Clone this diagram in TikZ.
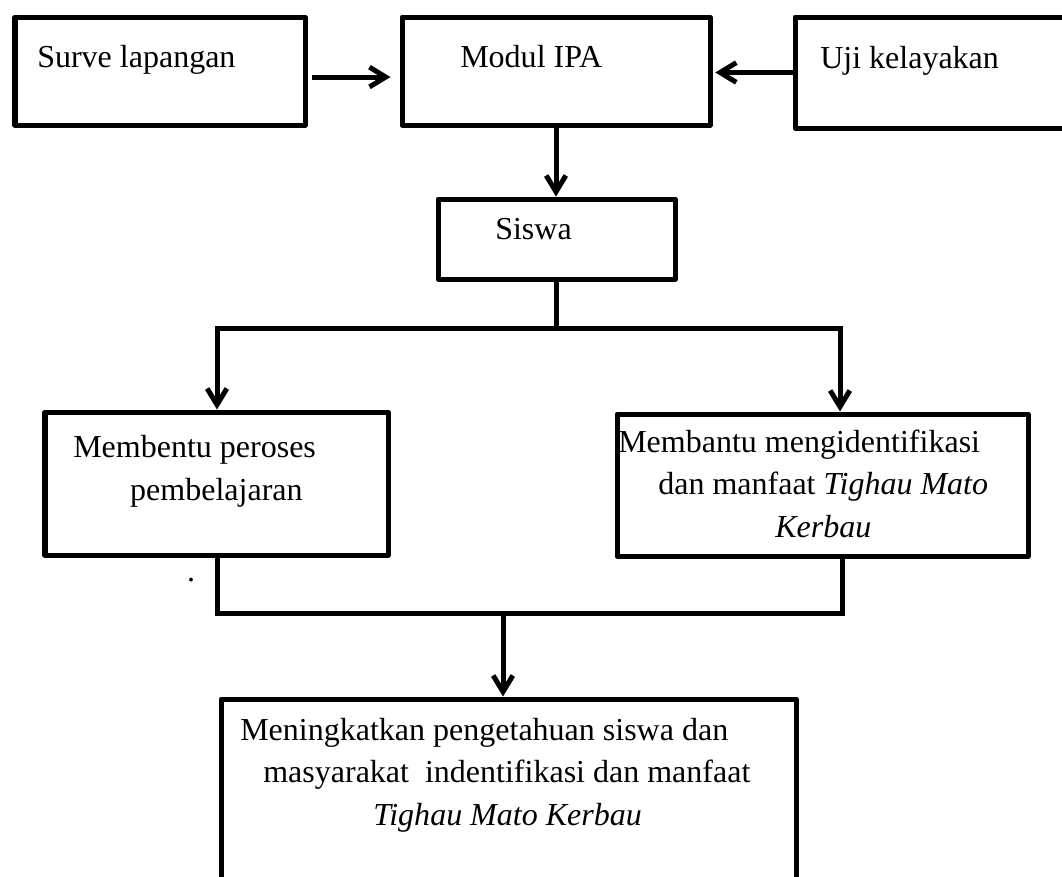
\documentclass[tikz,border=0pt]{standalone}
\usepackage{fontspec}
\setmainfont{Liberation Serif}
\usetikzlibrary{arrows.meta,positioning,calc}

\begin{document}
\begin{tikzpicture}[x=0.025cm,y=-0.025cm,
  box/.style={draw,line width=3.56pt,line join=round,inner sep=0pt},
  dims/.style 2 args={minimum width=#1*0.025cm,minimum height=#2*0.025cm},
  txt/.style={inner sep=0pt,anchor=base west,align=left,font=\fontsize{22.76pt}{30.2pt}\selectfont},
  link/.style={line width=3.56pt},
  arr/.style={link,-{Straight Barb[length=11.5pt,width=14pt]}},
  arrs/.style={link,{Straight Barb[length=11.5pt,width=14pt]}-{Straight Barb[length=11.5pt,width=14pt]}}
]
\useasboundingbox (0,0) rectangle (1062,876);
\clip (0,0) rectangle (1062,876);

% boxes
\node[box,dims={290}{108}] (surve) at (160,71) {};
\node[box,dims={308}{108}] (modul) at (556,71) {};
\node[box,dims={285}{111}] (uji) at (937.5,72.5) {};
\node[box,dims={237}{80}] (siswa) at (556.5,239) {};
\node[box,dims={343}{143}] (bentu) at (216.5,483.5) {};
\node[box,dims={411}{142}] (bantu) at (822.5,485) {};
\node[box,dims={575}{201}] (tingkat) at (508.5,799.5) {};

% texts (multi-line ones sit on their last baseline)
\node[txt] (surve-t) at (37,67) {Surve lapangan};
\node[txt] (modul-t) at (460,67) {Modul IPA};
\node[txt] (uji-t) at (820,68) {Uji kelayakan};
\node[txt] (siswa-t) at (495,239) {Siswa};
\node[txt] (bentu-t) at (73,500) {Membentu peroses\\\hspace*{40.5pt}pembelajaran};
\node[txt] (bantu-t) at (618,537) {Membantu mengidentifikasi\\\hspace*{28.5pt}dan manfaat \textit{Tighau Mato}\\\hspace*{111.7pt}\textit{Kerbau}};
\node[txt] (tingkat-t) at (240,825) {Meningkatkan pengetahuan siswa dan\\\hspace*{16.4pt}masyarakat\ \ indentifikasi dan manfaat\\\hspace*{94.6pt}\textit{Tighau Mato Kerbau}};
\node[txt,anchor=base] (dot) at (191,581) {.};

% joints
\coordinate (jL) at (217,328);
\coordinate (jR) at (840,328);
\coordinate (kL) at (217,613);
\coordinate (kR) at (842,613);
\coordinate (kM) at (503,613);

% connectors
\draw[arr,shorten <=3pt,shorten >=6.4pt] ([yshift=-4.3pt]surve.east) -- ([yshift=-4.3pt]modul.west);
\draw[arr,shorten >=2pt] (uji.west) -- (uji.west -| modul.east);
\draw[arr] (modul.south) -- (modul.south |- siswa.north);
\draw[link] (siswa.south) -- (siswa.south |- jL);
\draw[arrs] (jL |- bentu.north) -- (jL) -- (jR) -- (jR |- bantu.north);
\draw[link] (bentu.south -| kL) -- (kL) -- (kR) -- (kR |- bantu.south);
\draw[arr] (kM) -- (kM |- tingkat.north);
\end{tikzpicture}
\end{document}
